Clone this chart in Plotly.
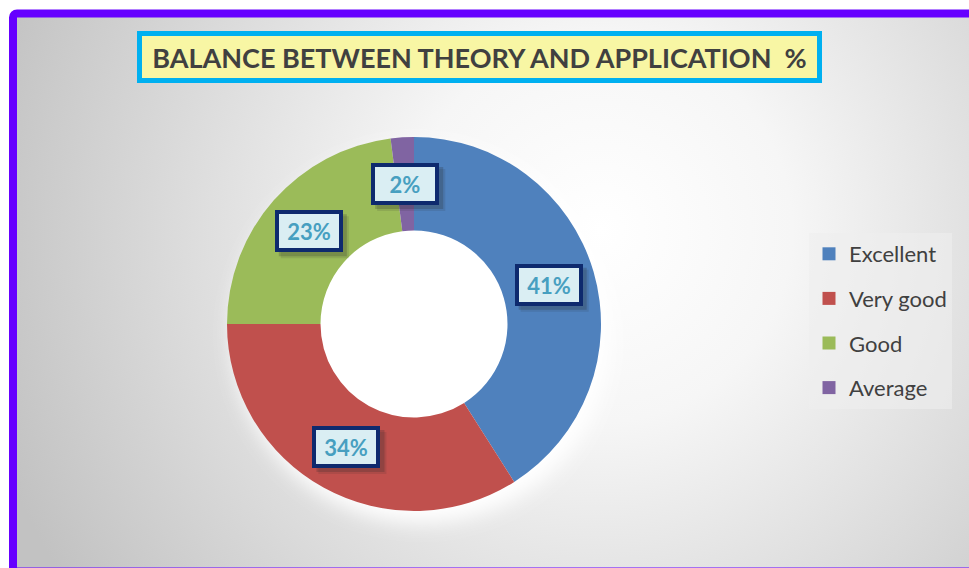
import base64
import math
import plotly.graph_objects as go

# ---- data ----
categories = ["Excellent", "Very good", "Good", "Average"]
values = [41, 34, 23, 2]
colors = ["#4F81BD", "#C0504D", "#9BBB59", "#8064A2"]
title_text = "BALANCE BETWEEN THEORY AND APPLICATION\u00a0 %"

# ---- layout constants ----
W, H = 969, 568
CX, CY, R = 414, 324, 187          # donut centre / radius in pixels
HOLE = 0.5
FONT = "Lato"

dom_x = [(CX - R) / W, (CX + R) / W]
dom_y = [1 - (CY + R) / H, 1 - (CY - R) / H]

# background (radial grey gradient) plus purple frame, as an SVG image
svg = f'''<svg xmlns="http://www.w3.org/2000/svg" width="{W}" height="{H}" viewBox="0 0 {W} {H}">
<defs>
<radialGradient id="g" gradientUnits="userSpaceOnUse" cx="600" cy="230" r="640">
<stop offset="0" stop-color="#ffffff"/>
<stop offset="0.3" stop-color="#f6f6f6"/>
<stop offset="1" stop-color="#c2c2c2"/>
</radialGradient>
<filter id="b" x="-30%" y="-30%" width="160%" height="160%"><feGaussianBlur stdDeviation="10"/></filter>
</defs>
<rect width="{W}" height="{H}" fill="#ffffff"/>
<rect x="13" y="13" width="{W}" height="{H}" fill="url(#g)"/>
<circle cx="{CX + 8}" cy="{CY + 10}" r="{R + 2}" fill="#ffffff" filter="url(#b)"/>
<rect x="13" y="13.5" width="{W + 40}" height="558" rx="4" fill="none" stroke="#6600FF" stroke-width="8"/>
</svg>'''
bg_src = "data:image/svg+xml;base64," + base64.b64encode(svg.encode()).decode()

fig = go.Figure()

fig.add_trace(go.Pie(
    labels=categories,
    values=values,
    hole=HOLE,
    sort=False,
    direction="clockwise",
    rotation=0,
    marker=dict(colors=colors, line=dict(width=0)),
    textinfo="none",
    showlegend=False,
    domain=dict(x=dom_x, y=dom_y),
))

# legend entries (one per category) so the spacing can be controlled
for name, col in zip(categories, colors):
    fig.add_trace(go.Scatter(
        x=[None], y=[None], mode="markers", name=name, legendgroup=name,
        marker=dict(symbol="square", size=13, color=col),
    ))

# data labels: boxed, placed at middle of ring at the mid-angle of each slice
total = sum(values)
cum = 0
r_mid = R * (1 + HOLE) / 2
annotations = []
shapes = []
BW, BH = 68, 42
for v in values:
    mid = (cum + v / 2) / total * 2 * math.pi
    cum += v
    px = CX + r_mid * math.sin(mid)
    py = CY - r_mid * math.cos(mid)
    xp, yp = px / W, 1 - py / H
    txt = f"<b>{round(v / total * 100)}%</b>"
    # soft drop shadow
    for off, op in ((6, 0.12), (4, 0.22)):
        shapes.append(dict(
            type="rect", xref="paper", yref="paper", xsizemode="pixel", ysizemode="pixel",
            xanchor=xp, yanchor=yp,
            x0=-BW / 2 + off, x1=BW / 2 + off, y0=-BH / 2 - off, y1=BH / 2 - off,
            fillcolor=f"rgba(40,40,40,{op})", line=dict(width=0), layer="above",
        ))
    annotations.append(dict(
        x=xp, y=yp, xref="paper", yref="paper", xanchor="center", yanchor="middle",
        text=txt, showarrow=False,
        font=dict(family=FONT, size=22, color="#479FC0"),
        bgcolor="#DAEEF3", width=BW - 10, height=BH - 10,
        borderpad=1, borderwidth=4, bordercolor="#0E2A6E",
    ))

# title box
annotations.append(dict(
    x=479.5 / W, y=1 - 57 / H, xref="paper", yref="paper", xanchor="center", yanchor="middle",
    text=f"<b>{title_text}</b>", showarrow=False,
    font=dict(family=FONT, size=27, color="#404040"),
    bgcolor="#F8F6A4", bordercolor="#00B0F0", borderwidth=5, borderpad=0,
    width=675, height=42,
))

fig.update_layout(
    width=W, height=H,
    margin=dict(l=0, r=0, t=0, b=0),
    paper_bgcolor="#ffffff",
    plot_bgcolor="rgba(0,0,0,0)",
    xaxis=dict(visible=False),
    yaxis=dict(visible=False),
    images=[dict(source=bg_src, xref="paper", yref="paper", x=0, y=1,
                 sizex=1, sizey=1, xanchor="left", yanchor="top",
                 sizing="stretch", layer="below")],
    shapes=shapes,
    annotations=annotations,
    legend=dict(
        x=809 / W, y=1 - 233 / H, xanchor="left", yanchor="top",
        bgcolor="rgba(238,238,238,0.6)", borderwidth=0,
        font=dict(family=FONT, size=22, color="#404040"),
        tracegroupgap=13, itemwidth=30,
    ),
    showlegend=True,
)

fig.write_html("out.html", config={"displayModeBar": False},
               post_script="document.body.style.margin='0px';")
